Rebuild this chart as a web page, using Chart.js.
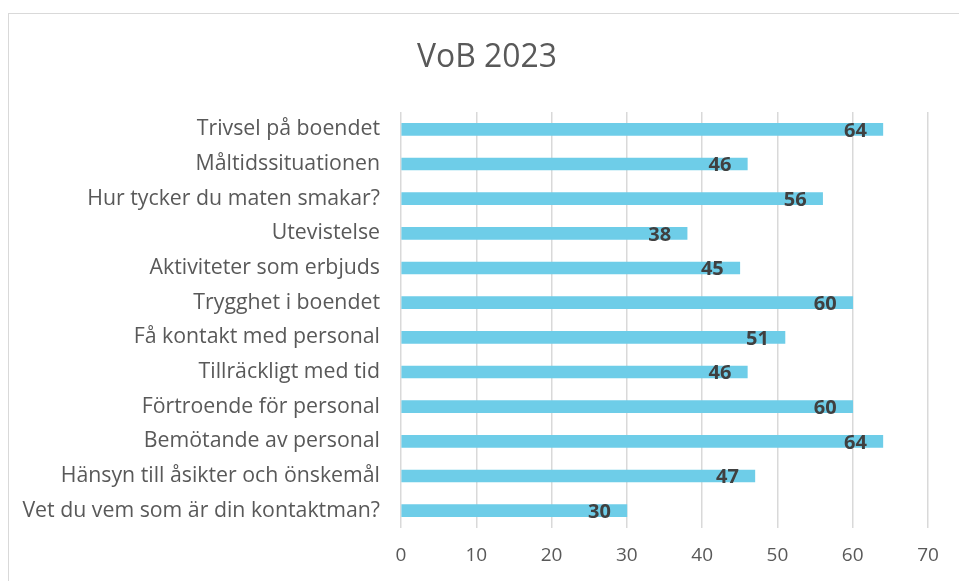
<!DOCTYPE html>
<html>
<head>
<meta charset="utf-8">
<script src="https://cdn.jsdelivr.net/npm/chart.js@4/dist/chart.umd.min.js"></script>
<style>
  html, body { margin: 0; padding: 0; background: #fff; overflow: hidden; }
  #wrap { position: relative; width: 959px; height: 581px; }
  #frame { position: absolute; left: 8px; top: 13px; width: 1000px; height: 1000px; border: 1px solid #d9d9d9; box-sizing: border-box; }
  canvas { position: absolute; left: 0; top: 0; }
</style>
</head>
<body>
<div id="wrap">
  <div id="frame"></div>
  <canvas id="chart" width="959" height="581"></canvas>
</div>
<script>
/* VoB 2023: liggande stapeldiagram */

const title = 'VoB 2023';
const categories = [
  'Trivsel på boendet',
  'Måltidssituationen',
  'Hur tycker du maten smakar?',
  'Utevistelse',
  'Aktiviteter som erbjuds',
  'Trygghet i boendet',
  'Få kontakt med personal',
  'Tillräckligt med tid',
  'Förtroende för personal',
  'Bemötande av personal',
  'Hänsyn till åsikter och önskemål',
  'Vet du vem som är din kontaktman?',
];
const values = [64, 46, 56, 38, 45, 60, 51, 46, 60, 64, 47, 30];
const xTicks = [0, 10, 20, 30, 40, 50, 60, 70];

const FONT = "'Open Sans', 'Liberation Sans', sans-serif";

// anpassa teckenstorlek så att texten får samma bredd som i originalet
const fitSize = (text, width, weight = '') => {
  const c = document.createElement('canvas').getContext('2d');
  c.font = `${weight} 100px ${FONT}`;
  return Math.round((100 * width / c.measureText(text).width) * 10) / 10;
};
const catSize = fitSize(categories[categories.length - 1], 358);
const titleSize = fitSize(title, 140);

// titel + värden inne i stapelns ände
const labelsPlugin = {
  id: 'labels',
  afterDatasetsDraw(chart) {
    const { ctx } = chart;
    ctx.save();
    ctx.fillStyle = '#595959';
    ctx.font = `${titleSize}px ${FONT}`;
    ctx.textAlign = 'center';
    ctx.textBaseline = 'alphabetic';
    ctx.fillText(title, 487, 67);

    ctx.fillStyle = '#404040';
    ctx.font = `bold 20px ${FONT}`;
    ctx.textAlign = 'right';
    ctx.textBaseline = 'middle';
    chart.getDatasetMeta(0).data.forEach((bar, i) => {
      ctx.fillText(String(values[i]), bar.x - 16, bar.y + 1.5);
    });
    ctx.restore();
  },
};

new Chart(document.getElementById('chart'), {
  type: 'bar',
  data: {
    labels: categories,
    datasets: [{
      data: values,
      backgroundColor: '#6ecde8',
      barThickness: 12,
    }],
  },
  options: {
    indexAxis: 'y',
    responsive: false,
    animation: false,
    layout: { padding: { top: 112, right: 31, left: 0, bottom: 0 } },
    plugins: { legend: { display: false }, tooltip: { enabled: false }, title: { display: false } },
    scales: {
      x: {
        min: 0, max: 70,
        afterBuildTicks: (s) => { s.ticks = xTicks.map((v) => ({ value: v })); },
        afterFit: (s) => { s.height = 53; },
        grid: { color: '#d9d9d9', lineWidth: 1.5, drawTicks: false },
        border: { display: false },
        ticks: { color: '#595959', font: { family: FONT, size: 19 }, padding: 16 },
      },
      y: {
        afterFit: (s) => { s.width = 401; },
        grid: { display: false },
        border: { display: false },
        ticks: { color: '#595959', font: { family: FONT, size: catSize }, padding: 13 },
      },
    },
  },
  plugins: [labelsPlugin],
});
</script>
</body>
</html>
